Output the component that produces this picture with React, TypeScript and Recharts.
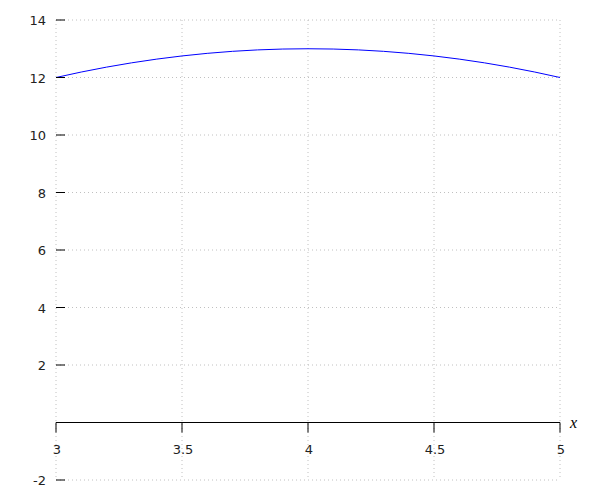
import React from 'react';
import { LineChart, Line, XAxis, YAxis, CartesianGrid, ReferenceLine } from 'recharts';

const xValues = [3, 3.1, 3.2, 3.3, 3.4, 3.5, 3.6, 3.7, 3.8, 3.9, 4, 4.1, 4.2, 4.3, 4.4, 4.5, 4.6, 4.7, 4.8, 4.9, 5];
const yValues = [12, 12.19, 12.36, 12.51, 12.64, 12.75, 12.84, 12.91, 12.96, 12.99, 13, 12.99, 12.96, 12.91, 12.84, 12.75, 12.64, 12.51, 12.36, 12.19, 12];
const xTicks = [3, 3.5, 4, 4.5, 5];
const yTicks = [-2, 2, 4, 6, 8, 10, 12, 14];
const X_DOMAIN: [number, number] = [3, 5];
const Y_DOMAIN: [number, number] = [-2, 14];

const data = xValues.map((x, i) => ({ x, y: yValues[i] }));

const W = 600;
const H = 500;
const X_AXIS_H = 1;
const MARGIN = { top: 20, right: 40, bottom: 19, left: 0 };
const PLOT_H = H - MARGIN.top - MARGIN.bottom - X_AXIS_H;
const ZERO_OFFSET = (PLOT_H * (0 - Y_DOMAIN[0])) / (Y_DOMAIN[1] - Y_DOMAIN[0]);

const FONT = '"DejaVu Sans", sans-serif';

const XTick = (props: any) => {
  const { x, y, payload } = props;
  const y0 = y - ZERO_OFFSET;
  return (
    <g>
      <line x1={x} x2={x} y1={y0} y2={y0 + 10} stroke="#000" strokeWidth={1} />
      <text x={x + 1} y={y0 + 31} textAnchor="middle" fontFamily={FONT} fontSize={13} fill="#222">
        {payload.value}
      </text>
    </g>
  );
};

const YTick = (props: any) => {
  const { x, y, payload } = props;
  return (
    <g>
      <line x1={x} x2={x + 9} y1={y} y2={y} stroke="#000" strokeWidth={1} />
      <text x={x - 10} y={y + 5} textAnchor="end" fontFamily={FONT} fontSize={13} fill="#222">
        {payload.value}
      </text>
    </g>
  );
};

export default function App() {
  return (
    <div style={{ position: 'absolute', left: 0, top: 0 }}>
      <LineChart width={W} height={H} data={data} margin={MARGIN}>
        <CartesianGrid stroke="#c0c0c0" strokeDasharray="1 3" />
        <XAxis
          dataKey="x"
          type="number"
          domain={X_DOMAIN}
          ticks={xTicks}
          axisLine={false}
          tickLine={false}
          tickSize={0}
          tickMargin={0}
          height={X_AXIS_H}
          tick={<XTick />}
          interval={0}
        />
        <YAxis
          type="number"
          domain={Y_DOMAIN}
          ticks={yTicks}
          axisLine={false}
          tickLine={false}
          tickSize={0}
          tickMargin={0}
          width={56}
          tick={<YTick />}
          interval={0}
        />
        <ReferenceLine
          y={0}
          stroke="#000"
          strokeWidth={1}
          label={{ value: 'x', position: 'right', fill: '#000', fontFamily: 'serif', fontStyle: 'italic', fontSize: 16, offset: 10 }}
        />
        <Line
          type="monotone"
          dataKey="y"
          stroke="#0000ff"
          strokeWidth={1}
          dot={false}
          isAnimationActive={false}
        />
      </LineChart>
    </div>
  );
}
